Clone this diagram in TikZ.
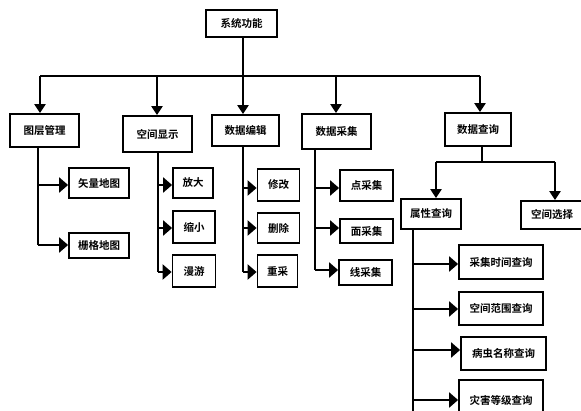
\documentclass[tikz,border=0pt]{standalone}
\usepackage{fontspec}
\newfontfamily\cjk{Noto Sans CJK SC Bold}
\usetikzlibrary{arrows.meta}
\begin{document}
\begin{tikzpicture}[x=1pt,y=-1pt,
  box/.style={draw=black,line width=1.8pt,inner sep=0pt,font=\cjk\fontsize{10.5}{12}\selectfont,text=black},
  link/.style={line width=1.5pt},
  down/.style={line width=2.6pt,-{Triangle[length=9pt,width=11pt]}},
  side/.style={line width=2.8pt,-{Triangle[length=9pt,width=15pt]}}]
\useasboundingbox (0,0) rectangle (581,410);
\fill[white] (0,0) rectangle (581,410);
\clip (0,0) rectangle (581,410);
% top
\node[box,minimum width=71pt,minimum height=27pt] (top) at (241.5,23.5) {系统功能};
% level 1
\node[box,minimum width=69pt,minimum height=33pt] (a) at (44.5,130.5) {图层管理};
\node[box,minimum width=69pt,minimum height=36pt] (b) at (157.5,134) {空间显示};
\node[box,minimum width=67pt,minimum height=31pt] (c) at (245.5,130.5) {数据编辑};
\node[box,minimum width=69pt,minimum height=35pt] (d) at (336.5,131.5) {数据采集};
\node[box,minimum width=66pt,minimum height=33pt] (e) at (478,129.5) {数据查询};
% bus
\coordinate (bus) at (243,76);
\coordinate (ba) at (40,76);
\coordinate (bb) at (157,76);
\coordinate (bd) at (336,76);
\coordinate (be) at (480,76);
\draw[link] (top.south -| bus) -- (bus);
\draw[link] (ba) -- (be);
\draw[down] (ba) -- (ba |- a.north);
\draw[down] (bb) -- (bb |- b.north);
\draw[down] (bus) -- (bus |- c.north);
\draw[down] (bd) -- (bd |- d.north);
\draw[down] (be) -- (be |- e.north);
% level 2: a
\node[box,minimum width=60pt,minimum height=30pt] (a1) at (99,183) {矢量地图};
\node[box,minimum width=60pt,minimum height=25pt] (a2) at (99,245.5) {栅格地图};
\coordinate (aj1) at (38,185);
\coordinate (aj2) at (38,245);
\draw[link] (a.south -| aj1) -- (aj2);
\draw[side] (aj1) -- (aj1 -| a1.west);
\draw[side] (aj2) -- (aj2 -| a2.west);
% b
\node[box,minimum width=40pt,minimum height=30pt] (b1) at (193,183) {放大};
\node[box,minimum width=42pt,minimum height=32pt] (b2) at (194,227) {缩小};
\node[box,minimum width=43pt,minimum height=32pt] (b3) at (194,271) {漫游};
\coordinate (bj1) at (158,185);
\coordinate (bj2) at (158,228);
\coordinate (bj3) at (158,272);
\draw[link] (b.south -| bj1) -- (bj3);
\draw[side] (bj1) -- (bj1 -| b1.west);
\draw[side] (bj2) -- (bj2 -| b2.west);
\draw[side] (bj3) -- (bj3 -| b3.west);
% c
\node[box,minimum width=42pt,minimum height=32pt] (c1) at (278.5,185) {修改};
\node[box,minimum width=42pt,minimum height=30pt] (c2) at (278.5,228) {删除};
\node[box,minimum width=40pt,minimum height=32pt] (c3) at (277.5,271) {重采};
\coordinate (cj1) at (243,188);
\coordinate (cj2) at (243,228);
\coordinate (cj3) at (243,272);
\draw[link] (c.south -| cj1) -- (cj3);
\draw[side] (cj1) -- (cj1 -| c1.west);
\draw[side] (cj2) -- (cj2 -| c2.west);
\draw[side] (cj3) -- (cj3 -| c3.west);
% d
\node[box,minimum width=53pt,minimum height=31pt] (d1) at (366.5,185.5) {点采集};
\node[box,minimum width=53pt,minimum height=24pt] (d2) at (366.5,231) {面采集};
\node[box,minimum width=53pt,minimum height=25pt] (d3) at (365.5,272.5) {线采集};
\coordinate (dj1) at (315,188);
\coordinate (dj2) at (315,228);
\coordinate (dj3) at (315,270);
\draw[link] (d.south -| dj1) -- (dj3);
\draw[side] (dj1) -- (dj1 -| d1.west);
\draw[side] (dj2) -- (dj2 -| d2.west);
\draw[side] (dj3) -- (dj3 -| d3.west);
% e
\node[box,minimum width=60pt,minimum height=30pt] (e1) at (431,214) {属性查询};
\node[box,minimum width=62pt,minimum height=28pt] (e2) at (552,215) {空间选择};
\coordinate (ej) at (482,162);
\coordinate (el) at (436,162);
\coordinate (er) at (555,162);
\draw[link] (e.south -| ej) -- (ej);
\draw[link] (el) -- (er);
\draw[down] (el) -- (el |- e1.north);
\draw[down] (er) -- (er |- e2.north);
% f
\node[box,minimum width=84pt,minimum height=34pt] (f1) at (501,262) {采集时间查询};
\node[box,minimum width=84pt,minimum height=33pt] (f2) at (501,308.5) {空间范围查询};
\node[box,minimum width=85pt,minimum height=33pt] (f3) at (503.5,353.5) {病虫名称查询};
\node[box,minimum width=84pt,minimum height=40pt] (f4) at (501,400) {灾害等级查询};
\coordinate (fb) at (413,412);
\coordinate (fj1) at (413,264);
\coordinate (fj2) at (413,309);
\coordinate (fj3) at (413,350);
\coordinate (fj4) at (413,400);
\draw[link] (e1.south -| fb) -- (fb);
\draw[side] (fj1) -- (fj1 -| f1.west);
\draw[side] (fj2) -- (fj2 -| f2.west);
\draw[side] (fj3) -- (fj3 -| f3.west);
\draw[side] (fj4) -- (fj4 -| f4.west);
\end{tikzpicture}
\end{document}
